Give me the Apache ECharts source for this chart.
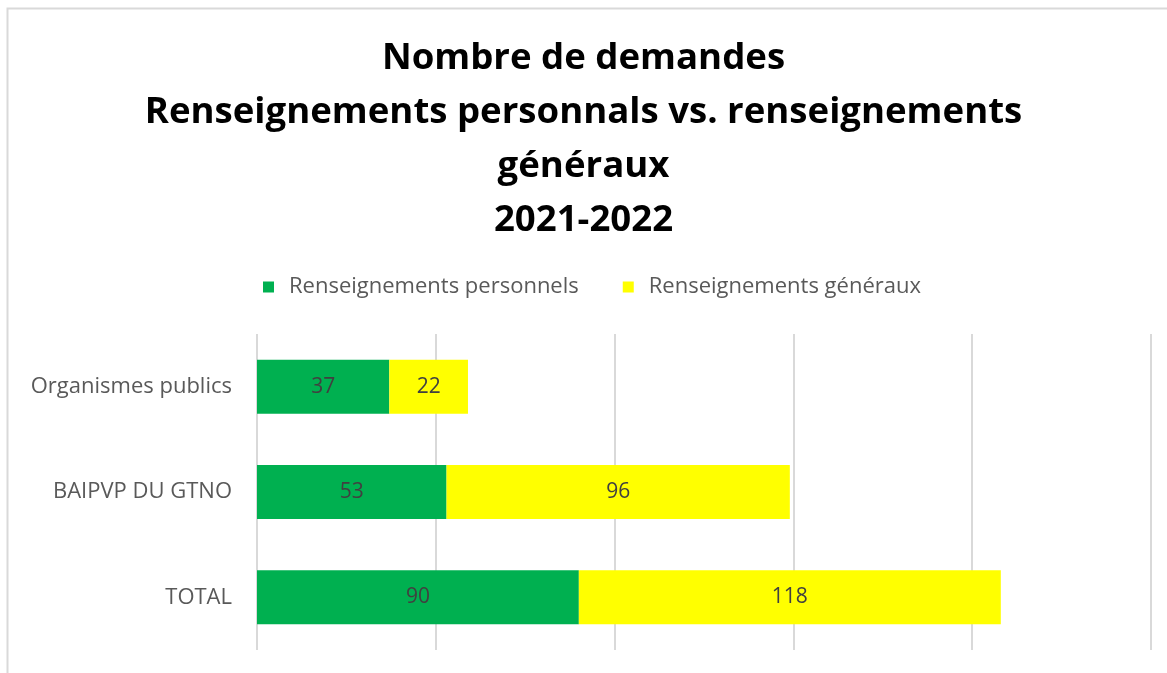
<!DOCTYPE html>
<html>
<head>
<meta charset="utf-8">
<script src="https://cdn.jsdelivr.net/npm/echarts@6/dist/echarts.min.js"></script>
<style>
  html, body { margin: 0; padding: 0; background: #fff; }
  #main { width: 1167px; height: 673px; }
</style>
</head>
<body>
<div id="main"></div>
<script>
// data
var categories = ['Organismes publics', 'BAIPVP DU GTNO', 'TOTAL'];
var personnels = [37, 53, 90];
var generaux = [22, 96, 118];
var seriesNames = ['Renseignements personnels', 'Renseignements généraux'];

var myChart = echarts.init(document.getElementById('main'));

var FONT = 'Open Sans';

myChart.setOption({
    backgroundColor: '#fff',
    animation: false,
    // chart border
    graphic: [{
        type: 'rect',
        shape: { x: 7.5, y: 8.5, width: 1200, height: 700 },
        style: { fill: 'none', stroke: '#d9d9d9', lineWidth: 2 },
        silent: true
    }],
    title: {
        text: 'Nombre de demandes\nRenseignements personnals vs. renseignements\ngénéraux\n2021-2022',
        left: 'center',
        top: 27,
        textStyle: {
            fontFamily: FONT,
            fontWeight: 'bold',
            fontSize: 36.6,
            lineHeight: 54,
            color: '#000'
        }
    },
    legend: {
        top: 271,
        left: 258,
        itemWidth: 11,
        itemHeight: 11,
        itemGap: 44,
        icon: 'rect',
        textStyle: { fontFamily: FONT, fontSize: 22, color: '#595959', padding: [0, 0, 0, 10] },
        data: seriesNames
    },
    grid: {
        left: 257,
        right: 16,
        top: 334,
        bottom: 23,
        containLabel: false
    },
    xAxis: {
        type: 'value',
        min: 0,
        max: 250,
        interval: 50,
        axisLabel: { show: false },
        axisLine: { show: false },
        axisTick: { show: false },
        splitLine: { show: true, lineStyle: { color: '#d9d9d9', width: 2 } }
    },
    yAxis: {
        type: 'category',
        inverse: true,
        data: categories,
        axisLine: { show: false },
        axisTick: { show: false },
        axisLabel: {
            margin: 25,
            fontFamily: FONT,
            fontSize: 22,
            color: '#595959'
        }
    },
    series: [{
        name: seriesNames[0],
        type: 'bar',
        stack: 'total',
        barWidth: 54,
        itemStyle: { color: '#00b050' },
        label: { show: true, position: 'inside', fontFamily: FONT, fontSize: 21, color: '#404040' },
        data: personnels
    }, {
        name: seriesNames[1],
        type: 'bar',
        stack: 'total',
        barWidth: 54,
        itemStyle: { color: '#ffff00' },
        label: { show: true, position: 'inside', fontFamily: FONT, fontSize: 21, color: '#404040' },
        data: generaux
    }]
});
</script>
</body>
</html>
